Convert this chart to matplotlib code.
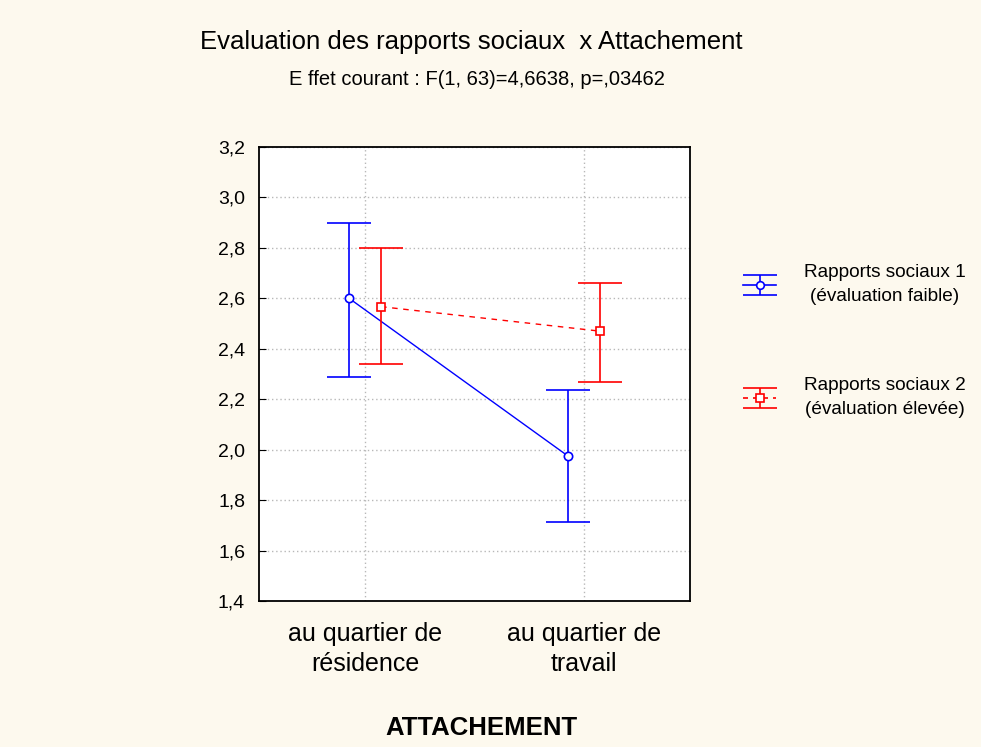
import numpy as np
import matplotlib.pyplot as plt

plt.rcParams['font.family'] = ['Liberation Sans', 'DejaVu Sans']

categories = ["au quartier de\nrésidence", "au quartier de\ntravail"]
series_names = ["Rapports sociaux 1\n(évaluation faible)", "Rapports sociaux 2\n(évaluation élevée)"]

mean_1 = [2.60, 1.975]
low_1 = [2.29, 1.715]
high_1 = [2.90, 2.237]

mean_2 = [2.567, 2.47]
low_2 = [2.34, 2.268]
high_2 = [2.80, 2.66]

yticks = [1.4, 1.6, 1.8, 2.0, 2.2, 2.4, 2.6, 2.8, 3.0, 3.2]

bg = '#fdf9ee'
fig = plt.figure(figsize=(9.81, 7.47), dpi=100, facecolor=bg)
ax = fig.add_axes([0.264, 0.1954, 0.4394, 0.6078])
ax.set_facecolor('white')

x = np.arange(len(categories))
off = 0.073

def draw(ax, xs, m, lo, hi, color, marker, ls):
    m = np.array(m); lo = np.array(lo); hi = np.array(hi)
    ax.plot(xs, m, color=color, lw=1, ls=ls, zorder=3)
    ax.errorbar(xs, m, yerr=[m - lo, hi - m], fmt='none', ecolor=color,
                elinewidth=1.2, capsize=16, capthick=1.2, zorder=3)
    ax.plot(xs, m, ls='none', marker=marker, ms=6, mfc='white', mec=color,
            mew=1.2, zorder=4)

draw(ax, x - off, mean_1, low_1, high_1, 'blue', 'o', '-')
draw(ax, x + off, mean_2, low_2, high_2, 'red', 's', (0, (4, 4)))

ax.set_xlim(-0.485, 1.485)
ax.set_ylim(1.4, 3.2)
ax.set_yticks(yticks)
ax.set_yticklabels([f"{v:.1f}".replace('.', ',') for v in yticks], fontsize=14)
ax.set_xticks(x)
ax.set_xticklabels(categories, fontsize=18, linespacing=1.33)
ax.tick_params(axis='y', direction='in', length=5, color='black', pad=10)
ax.tick_params(axis='x', length=0, pad=15)
ax.grid(True, color='#b8b8b8', ls=(0, (1, 2)), lw=1)
ax.set_axisbelow(True)
for s in ax.spines.values():
    s.set_linewidth(1.3)

fig.text(0.48, 0.944, "Evaluation des rapports sociaux  x Attachement",
         ha='center', va='center', fontsize=18.5)
fig.text(0.486, 0.893, "E ffet courant : F(1, 63)=4,6638, p=,03462",
         ha='center', va='center', fontsize=14.5)
fig.text(0.491, 0.025, "ATTACHEMENT", ha='center', va='center',
         fontsize=18.5, fontweight='bold')

# legend drawn in pixel coordinates
lax = fig.add_axes([0, 0, 1, 1], facecolor='none')
lax.set_xlim(0, 981)
lax.set_ylim(747, 0)
lax.axis('off')
legend_y = [284.5, 397.5]
legend_style = [('blue', 'o', '-'), ('red', 's', (0, (3, 3)))]
for yy, name, (c, mk, ls) in zip(legend_y, series_names, legend_style):
    lax.plot([743, 776], [yy, yy], color=c, lw=1.2, ls=ls)
    lax.errorbar([759.5], [yy], yerr=[[10], [10]], fmt='none', ecolor=c,
                 elinewidth=1.2, capsize=12, capthick=1.2)
    lax.plot([759.5], [yy], ls='none', marker=mk, ms=5.5, mfc='white',
             mec=c, mew=1.2)
    lax.text(884.5, yy, name, ha='center', va='center', fontsize=13.7,
             linespacing=1.55)

fig.savefig('out.png', dpi=100, facecolor=bg)
